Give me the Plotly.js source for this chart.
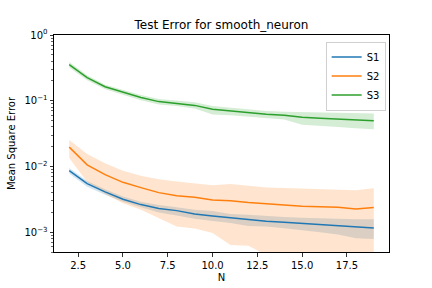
<!DOCTYPE html>
<html>
<head>
<meta charset="utf-8">
<script src="https://cdn.plot.ly/plotly-3.0.1.min.js"></script>
<style>html,body{margin:0;padding:0;background:#fff}#chart{width:432px;height:288px}</style>
</head>
<body>
<div id="chart"></div>
<script>
const N = [2,3,4,5,6,7,8,9,10,11,12,13,14,15,16,17,18,19];

const s1 = [0.00863,0.00548,0.0041,0.00317,0.00263,0.00229,0.00213,0.0019,0.00177,0.00165,0.00154,0.00147,0.00142,0.00137,0.00131,0.00126,0.00122,0.00116];
const s1Hi = [0.0095,0.0060,0.0045,0.0035,0.0029,0.0026,0.0024,0.0022,0.0021,0.0019,0.00184,0.00175,0.0017,0.00166,0.00162,0.0016,0.00158,0.00158];
const s1Lo = [0.0078,0.0049,0.0037,0.0029,0.0024,0.0020,0.0018,0.0016,0.00148,0.00138,0.00124,0.00122,0.00115,0.00108,0.0010,0.00092,0.00081,0.00079];

const s2 = [0.0197,0.0106,0.0075,0.00574,0.00477,0.0040,0.0036,0.0034,0.0031,0.0030,0.00282,0.00269,0.0026,0.00248,0.00245,0.0024,0.00226,0.00237];
const s2Hi = [0.0252,0.0155,0.0112,0.0086,0.0072,0.0064,0.0059,0.0056,0.0052,0.0054,0.0051,0.0048,0.0047,0.0046,0.00455,0.0045,0.00435,0.00466];
const s2Lo = [0.0135,0.0058,0.0038,0.00275,0.0022,0.00163,0.00122,0.00114,0.00097,0.00064,0.00062,0.00045,0.00001,0.00001,0.00001,0.00001,0.00001,0.00001];

const s3 = [0.355,0.225,0.163,0.135,0.112,0.097,0.092,0.085,0.074,0.070,0.065,0.0625,0.060,0.056,0.0543,0.0525,0.0507,0.0495];
const s3Hi = [0.39,0.245,0.175,0.145,0.122,0.106,0.101,0.095,0.083,0.078,0.073,0.070,0.068,0.067,0.066,0.065,0.064,0.064];
const s3Lo = [0.32,0.205,0.15,0.123,0.102,0.088,0.083,0.076,0.062,0.060,0.057,0.055,0.052,0.043,0.042,0.040,0.038,0.0367];

const seriesNames = ["S1","S2","S3"];
const colors = ["#1f77b4","#ff7f0e","#2ca02c"];
const fills = ["rgba(31,119,180,0.2)","rgba(255,127,14,0.2)","rgba(44,160,44,0.2)"];
const yTickVals = [0.001,0.01,0.1,1];
const yTickText = ["10<sup>\u22123</sup>","10<sup>\u22122</sup>","10<sup>\u22121</sup>","10<sup>0</sup>"];

const minorVals = [];
for (let e = -4; e <= 0; e++) for (let m = 2; m <= 9; m++) minorVals.push(m * Math.pow(10, e));

const means = [s1,s2,s3], his = [s1Hi,s2Hi,s3Hi], los = [s1Lo,s2Lo,s3Lo];
const traces = [];
for (let i = 0; i < 3; i++) {
  traces.push({x:N, y:los[i], mode:'lines', line:{width:0,color:fills[i]}, showlegend:false, hoverinfo:'skip'});
  traces.push({x:N, y:his[i], mode:'lines', line:{width:0,color:fills[i]}, fill:'tonexty', fillcolor:fills[i], showlegend:false, hoverinfo:'skip'});
}
for (let i = 0; i < 3; i++) {
  traces.push({x:N, y:means[i], mode:'lines', name:seriesNames[i], line:{color:colors[i], width:1.5}});
}

const font = {family:'DejaVu Sans, sans-serif', size:10, color:'#000'};
const layout = {
  width:432, height:288,
  margin:{l:54, r:43, t:35, b:36, pad:0},
  paper_bgcolor:'#fff', plot_bgcolor:'#fff',
  font:font,
  title:{text:'Test Error for smooth_neuron', font:{family:font.family,size:12,color:'#000'}, x:0.5, xref:'paper', xanchor:'center', y:1-25/288, yref:'container', yanchor:'middle'},
  xaxis:{range:[1.15,19.85], tick0:0, dtick:2.5, tickformat:'.1f', showgrid:false, zeroline:false,
    showline:true, mirror:true, linecolor:'#000', linewidth:1, ticks:'outside', ticklen:3.5, tickwidth:0.8, tickcolor:'#000',
    title:{text:'N', font:font, standoff:4}, automargin:false},
  yaxis:{type:'log', range:[Math.log10(5e-4), 0], tickvals:yTickVals, ticktext:yTickText, showgrid:false, zeroline:false,
    showline:true, mirror:true, linecolor:'#000', linewidth:1, ticks:'outside', ticklen:3.5, tickwidth:0.8, tickcolor:'#000',
    minor:{tickvals:minorVals, ticks:'outside', ticklen:2, tickwidth:0.6, tickcolor:'#000', showgrid:false},
    title:{text:'Mean Square Error', font:font, standoff:6}, automargin:false},
  legend:{x:0.99, xanchor:'right', y:0.97, yanchor:'top', traceorder:'normal', itemwidth:30, bgcolor:'rgba(255,255,255,0.8)', bordercolor:'#d0d0d0', borderwidth:1, font:font, tracegroupgap:0}
};
Plotly.newPlot('chart', traces, layout, {staticPlot:true, displayModeBar:false});
</script>
</body>
</html>
